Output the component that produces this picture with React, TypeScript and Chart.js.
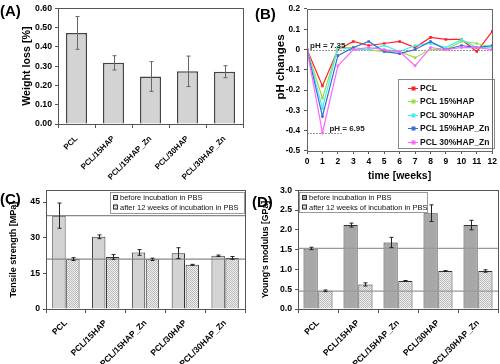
import React, { useEffect, useRef } from "react";
import { Chart, registerables } from "chart.js";
Chart.register(...registerables);

const FONT = "'Liberation Sans', Arial, sans-serif";

// ---------- data ----------
const materials = ["PCL", "PCL/15HAP", "PCL/15HAP_Zn", "PCL/30HAP", "PCL/30HAP_Zn"];

const weightLoss = [0.472, 0.317, 0.246, 0.273, 0.271];
const weightLossErr = [0.085, 0.037, 0.077, 0.079, 0.031];

const weeks = [0, 1, 2, 3, 4, 5, 6, 7, 8, 9, 10, 11, 12];
const phLabels = ["PCL", "PCL 15%HAP", "PCL 30%HAP", "PCL 15%HAP_Zn", "PCL 30%HAP_Zn"];
const phPCL = [0, -0.18, 0.0, 0.04, 0.02, 0.03, 0.04, 0.01, 0.06, 0.05, 0.05, -0.01, 0.09];
const ph15HAP = [0, -0.24, 0.01, 0.01, 0.0, -0.01, -0.01, -0.04, 0.0, 0.0, 0.04, 0.03, 0.01];
const ph30HAP = [0, -0.29, 0.01, 0.0, 0.0, 0.02, -0.01, 0.02, 0.03, 0.01, 0.05, 0.01, 0.01];
const ph15HAPZn = [0, -0.33, -0.03, 0.01, 0.04, -0.01, -0.02, 0.0, 0.04, 0.0, 0.02, 0.01, 0.02];
const ph30HAPZn = [0, -0.41, -0.08, 0.0, 0.01, 0.0, -0.01, -0.08, 0.01, 0.0, 0.01, 0.01, 0.0];
const phColors = ["#ff2020", "#99dd44", "#44eeee", "#3a6fd0", "#ff66ff"];
const phRefValues = [0, -0.41];
const phRefEnds = [12, 2.3];
const phRefTexts = ["pH = 7.35", "pH = 6.95"];
const phRefTextX = [0.2, 1.45];

const incubationLabels = ["before incubation in PBS", "after 12 weeks of incubation in PBS"];

const tensileBefore = [39.3, 30.4, 23.8, 23.5, 22.4];
const tensileBeforeErr = [5.3, 0.8, 1.2, 2.3, 0.3];
const tensileAfter = [21.0, 21.9, 20.9, 18.6, 21.5];
const tensileAfterErr = [0.6, 1.0, 0.5, 0.2, 0.6];
const tensileRefs = [39.3, 21.0];

const modulusBefore = [1.53, 2.12, 1.68, 2.42, 2.12];
const modulusBeforeErr = [0.03, 0.05, 0.13, 0.21, 0.12];
const modulusAfter = [0.46, 0.62, 0.71, 0.96, 0.96];
const modulusAfterErr = [0.02, 0.04, 0.01, 0.01, 0.03];
const modulusRefs = [1.53, 0.45];

// ---------- helpers ----------
function makePattern(): CanvasPattern | string {
  const c = document.createElement("canvas");
  c.width = 2;
  c.height = 2;
  const g = c.getContext("2d");
  if (!g) return "#d8d8d8";
  g.fillStyle = "#f2f2f2";
  g.fillRect(0, 0, 2, 2);
  g.fillStyle = "#b8b8b8";
  g.fillRect(0, 0, 1, 1);
  g.fillRect(1, 1, 1, 1);
  return g.createPattern(c, "repeat") || "#d8d8d8";
}

const bold = (size: number) => ({ family: FONT, size, weight: "bold" as const });

const framePlugin = (color: string) => ({
  id: "frame",
  afterDraw(chart: any) {
    const { ctx, chartArea: a } = chart;
    ctx.save();
    ctx.strokeStyle = color;
    ctx.lineWidth = 1;
    ctx.strokeRect(Math.round(a.left) + 0.5, Math.round(a.top) + 0.5, Math.round(a.right - a.left), Math.round(a.bottom - a.top));
    ctx.restore();
  },
});

const panelLabel = (text: string, x: number, y: number) => ({
  id: "panelLabel",
  afterDraw(chart: any) {
    const ctx = chart.ctx;
    ctx.save();
    ctx.fillStyle = "#000";
    ctx.font = `bold 15px ${FONT}`;
    ctx.textAlign = "left";
    ctx.textBaseline = "alphabetic";
    ctx.fillText(text, x, y);
    ctx.restore();
  },
});

const errorBars = (errs: number[][], color: string, cap: number) => ({
  id: "errorBars",
  afterDatasetsDraw(chart: any) {
    const ctx = chart.ctx;
    const ys = chart.scales.y;
    errs.forEach((err, di) => {
      const meta = chart.getDatasetMeta(di);
      const vals = chart.data.datasets[di].data as number[];
      meta.data.forEach((el: any, i: number) => {
        const x = Math.round(el.x) + 0.5;
        const y1 = ys.getPixelForValue(vals[i] + err[i]);
        const y2 = ys.getPixelForValue(vals[i] - err[i]);
        ctx.save();
        ctx.strokeStyle = color;
        ctx.lineWidth = 1;
        ctx.beginPath();
        ctx.moveTo(x, y1);
        ctx.lineTo(x, y2);
        ctx.moveTo(x - cap, y1);
        ctx.lineTo(x + cap, y1);
        ctx.moveTo(x - cap, y2);
        ctx.lineTo(x + cap, y2);
        ctx.stroke();
        ctx.restore();
      });
    });
  },
});

const refLines = (vals: number[], color: string, width: number) => ({
  id: "refLines",
  afterDatasetsDraw(chart: any) {
    const { ctx, chartArea: a } = chart;
    const ys = chart.scales.y;
    ctx.save();
    ctx.strokeStyle = color;
    ctx.lineWidth = width;
    vals.forEach((v) => {
      const y = ys.getPixelForValue(v);
      ctx.beginPath();
      ctx.moveTo(a.left, y);
      ctx.lineTo(a.right, y);
      ctx.stroke();
    });
    ctx.restore();
  },
});

const barLegend = (box: { x: number; y: number; w: number; h: number }) => ({
  id: "barLegend",
  afterDraw(chart: any) {
    const ctx = chart.ctx;
    ctx.save();
    ctx.fillStyle = "#fff";
    ctx.fillRect(box.x, box.y, box.w, box.h);
    ctx.strokeStyle = "#999";
    ctx.lineWidth = 1;
    ctx.strokeRect(box.x + 0.5, box.y + 0.5, box.w, box.h);
    chart.data.datasets.forEach((ds: any, i: number) => {
      const cy = box.y + 5.5 + i * 9.5;
      ctx.fillStyle = ds.backgroundColor;
      ctx.fillRect(box.x + 3, cy - 2.5, 5, 5);
      ctx.strokeStyle = "#333";
      ctx.strokeRect(box.x + 3.5, cy - 2, 4, 4);
      ctx.fillStyle = "#111";
      ctx.font = `7.5px ${FONT}`;
      ctx.textBaseline = "middle";
      ctx.textAlign = "left";
      ctx.fillText(ds.label, box.x + 10, cy + 0.5);
    });
    ctx.restore();
  },
});

const phExtras = {
  id: "phExtras",
  beforeDatasetsDraw(chart: any) {
    const ctx = chart.ctx;
    const xs = chart.scales.x;
    const ys = chart.scales.y;
    ctx.save();
    phRefValues.forEach((v, i) => {
      const y = Math.round(ys.getPixelForValue(v)) + 0.5;
      ctx.strokeStyle = "#999";
      ctx.lineWidth = 1;
      ctx.setLineDash([2, 1]);
      ctx.beginPath();
      ctx.moveTo(xs.getPixelForValue(0), y);
      ctx.lineTo(xs.getPixelForValue(phRefEnds[i]), y);
      ctx.stroke();
    });
    ctx.restore();
  },
  afterDatasetsDraw(chart: any) {
    const ctx = chart.ctx;
    const xs = chart.scales.x;
    const ys = chart.scales.y;
    ctx.save();
    phRefValues.forEach((v, i) => {
      const y = Math.round(ys.getPixelForValue(v));
      ctx.fillStyle = "#222";
      ctx.font = `bold 8px ${FONT}`;
      ctx.textAlign = "left";
      ctx.textBaseline = "alphabetic";
      ctx.fillText(phRefTexts[i], xs.getPixelForValue(phRefTextX[i]), y - 2);
    });
    ctx.restore();
  },
  afterDraw(chart: any) {
    const ctx = chart.ctx;
    // axis title (drawn here so it can sit slightly above the axis centre)
    ctx.save();
    ctx.translate(31, 67);
    ctx.rotate(-Math.PI / 2);
    ctx.fillStyle = "#000";
    ctx.font = `bold 11.5px ${FONT}`;
    ctx.textAlign = "center";
    ctx.textBaseline = "middle";
    ctx.fillText(chart.options.scales.y.title.text, 0, 0);
    ctx.restore();

    const bx = 148, by = 79, bw = 96, bh = 69;
    ctx.save();
    ctx.fillStyle = "#fff";
    ctx.fillRect(bx, by, bw, bh);
    ctx.strokeStyle = "#888";
    ctx.lineWidth = 1;
    ctx.strokeRect(bx + 0.5, by + 0.5, bw, bh);
    chart.data.datasets.forEach((ds: any, i: number) => {
      const cy = Math.round(by + 8.5 + i * 13.6) + 0.5;
      ctx.strokeStyle = ds.borderColor;
      ctx.beginPath();
      ctx.moveTo(bx + 10, cy);
      ctx.lineTo(bx + 20, cy);
      ctx.stroke();
      ctx.fillStyle = ds.borderColor;
      ctx.fillRect(bx + 13.5, cy - 2, 4, 4);
      ctx.fillStyle = "#111";
      ctx.font = `bold 8.5px ${FONT}`;
      ctx.textBaseline = "middle";
      ctx.textAlign = "left";
      ctx.fillText(ds.label, bx + 22, cy + 0.5);
    });
    ctx.restore();
  },
};

function catXAxis(height: number, fontSize: number, pad: number) {
  return {
    grid: { display: true, drawOnChartArea: false, drawTicks: true, tickLength: 4, color: "#555", offset: true },
    border: { display: false },
    ticks: { autoSkip: false, minRotation: 45, maxRotation: 45, font: bold(fontSize), color: "#000", padding: pad },
    afterFit: (s: any) => {
      s.height = height;
    },
  };
}

function valYAxis(min: number, max: number, step: number, dec: number, title: string, width: number, titlePad: number, titleSize: number) {
  return {
    min,
    max,
    grid: { display: true, drawOnChartArea: false, tickLength: 3, color: "#555" },
    border: { display: false },
    ticks: {
      stepSize: step,
      includeBounds: false,
      font: bold(8.7),
      color: "#000",
      padding: 3,
      callback: (v: any) => Number(v).toFixed(dec),
    },
    title: { display: true, text: title, font: bold(titleSize), color: "#000", padding: { top: titlePad, bottom: 0 } },
    afterFit: (s: any) => {
      s.width = width;
    },
  };
}

// ---------- configs ----------
function configA(): any {
  return {
    type: "bar",
    data: {
      labels: materials,
      datasets: [
        {
          label: "Weight loss",
          data: weightLoss,
          backgroundColor: "#d3d3d3",
          borderColor: "#444",
          borderWidth: 1.5,
          barPercentage: 0.57,
          categoryPercentage: 1,
        },
      ],
    },
    options: {
      animation: false,
      responsive: false,
      layout: { padding: { top: 3, right: 7, left: 0, bottom: 0 } },
      plugins: { legend: { display: false }, tooltip: { enabled: false } },
      scales: { x: catXAxis(58, 8, 6), y: valYAxis(0, 0.6, 0.1, 2, "Weight loss [%]", 58, 21, 10.7) },
    },
    plugins: [errorBars([weightLossErr], "#666", 2), framePlugin("#555"), panelLabel("(A)", 0, 15.5)],
  };
}

function configB(): any {
  const series = [phPCL, ph15HAP, ph30HAP, ph15HAPZn, ph30HAPZn];
  return {
    type: "line",
    data: {
      datasets: series.map((s, i) => ({
        label: phLabels[i],
        data: weeks.map((w, j) => ({ x: w, y: s[j] })),
        borderColor: phColors[i],
        backgroundColor: phColors[i],
        borderWidth: 1.2,
        pointStyle: "rect",
        pointRadius: 1.8,
        pointBorderWidth: 0,
        tension: 0,
        order: 5 - i,
      })),
    },
    options: {
      animation: false,
      responsive: false,
      layout: { padding: { top: 3, right: 5, left: 0, bottom: 0 } },
      plugins: { legend: { display: false }, tooltip: { enabled: false } },
      scales: {
        x: {
          type: "linear",
          min: 0,
          max: 12,
          grid: { display: true, drawOnChartArea: false, tickLength: 3, color: "#555" },
          border: { display: false },
          ticks: { stepSize: 1, font: bold(8.5), color: "#000", padding: 3, callback: (v: any) => String(v) },
          title: { display: true, text: "time [weeks]", font: bold(10.5), color: "#000", padding: { top: 0, bottom: 0 } },
          afterFit: (s: any) => {
            s.height = 31;
          },
        },
        y: {
          min: -0.5,
          max: 0.2,
          grid: { display: true, drawOnChartArea: false, tickLength: 3, color: "#555" },
          border: { display: false },
          ticks: {
            stepSize: 0.1,
            font: bold(8.3),
            color: "#000",
            padding: 4,
            callback: (v: any) => (Math.abs(Number(v)) < 1e-9 ? "0" : Number(v).toFixed(1)),
          },
          title: { display: false, text: "pH changes" },
          afterFit: (s: any) => {
            s.width = 57;
          },
        },
      },
    },
    plugins: [phExtras, framePlugin("#666"), panelLabel("(B)", 5, 19)],
  };
}

function groupedConfig(
  before: number[], beforeErr: number[], after: number[], afterErr: number[],
  beforeColor: string, refs: number[], refColor: string,
  yMax: number, step: number, dec: number, title: string, titleSize: number, label: string, lx: number, ly: number,
  legendBox: { x: number; y: number; w: number; h: number }, catPct: number, yWidth: number, titlePad: number, rightPad: number,
): any {
  const pattern = makePattern();
  return {
    type: "bar",
    data: {
      labels: materials,
      datasets: [
        { label: incubationLabels[0], data: before, backgroundColor: beforeColor, borderColor: "#333", borderWidth: 1, barPercentage: 0.96, categoryPercentage: catPct },
        { label: incubationLabels[1], data: after, backgroundColor: pattern, borderColor: "#333", borderWidth: 1, barPercentage: 0.96, categoryPercentage: catPct },
      ],
    },
    options: {
      animation: false,
      responsive: false,
      layout: { padding: { top: 7, right: rightPad, left: 0, bottom: 0 } },
      plugins: { legend: { display: false }, tooltip: { enabled: false } },
      scales: { x: catXAxis(55, 8.5, 5), y: valYAxis(0, yMax, step, dec, title, yWidth, titlePad, titleSize) },
    },
    plugins: [refLines(refs, refColor, 1.2), errorBars([beforeErr, afterErr], "#222", 2), framePlugin("#555"), barLegend(legendBox), panelLabel(label, lx, ly)],
  };
}

function configC(): any {
  return groupedConfig(
    tensileBefore, tensileBeforeErr, tensileAfter, tensileAfterErr, "#d3d3d3", tensileRefs, "#888",
    50, 15, 0, "Tensile strength [MPa]", 9, "(C)", 0, 22, { x: 110, y: 10, w: 134, h: 21 }, 0.7, 46, 8, 5,
  );
}

function configD(): any {
  return groupedConfig(
    modulusBefore, modulusBeforeErr, modulusAfter, modulusAfterErr, "#a8a8a8", modulusRefs, "#999",
    3, 0.5, 1, "Young's modulus [GPa]", 8.7, "(D)", 2, 25, { x: 49, y: 10, w: 128, h: 20 }, 0.74, 48, 10, 2,
  );
}

function Panel({ make, left, top }: { make: () => any; left: number; top: number }) {
  const ref = useRef<HTMLCanvasElement>(null);
  useEffect(() => {
    if (!ref.current) return;
    const c = new Chart(ref.current, make());
    return () => c.destroy();
  }, []);
  return <canvas ref={ref} width={250} height={182} style={{ position: "absolute", left, top, width: 250, height: 182 }} />;
}

export default function App() {
  return (
    <div style={{ position: "absolute", left: 0, top: 0, width: 500, height: 364, background: "#fff" }}>
      <Panel make={configA} left={0} top={0} />
      <Panel make={configB} left={250} top={0} />
      <Panel make={configC} left={0} top={182} />
      <Panel make={configD} left={250} top={182} />
    </div>
  );
}
